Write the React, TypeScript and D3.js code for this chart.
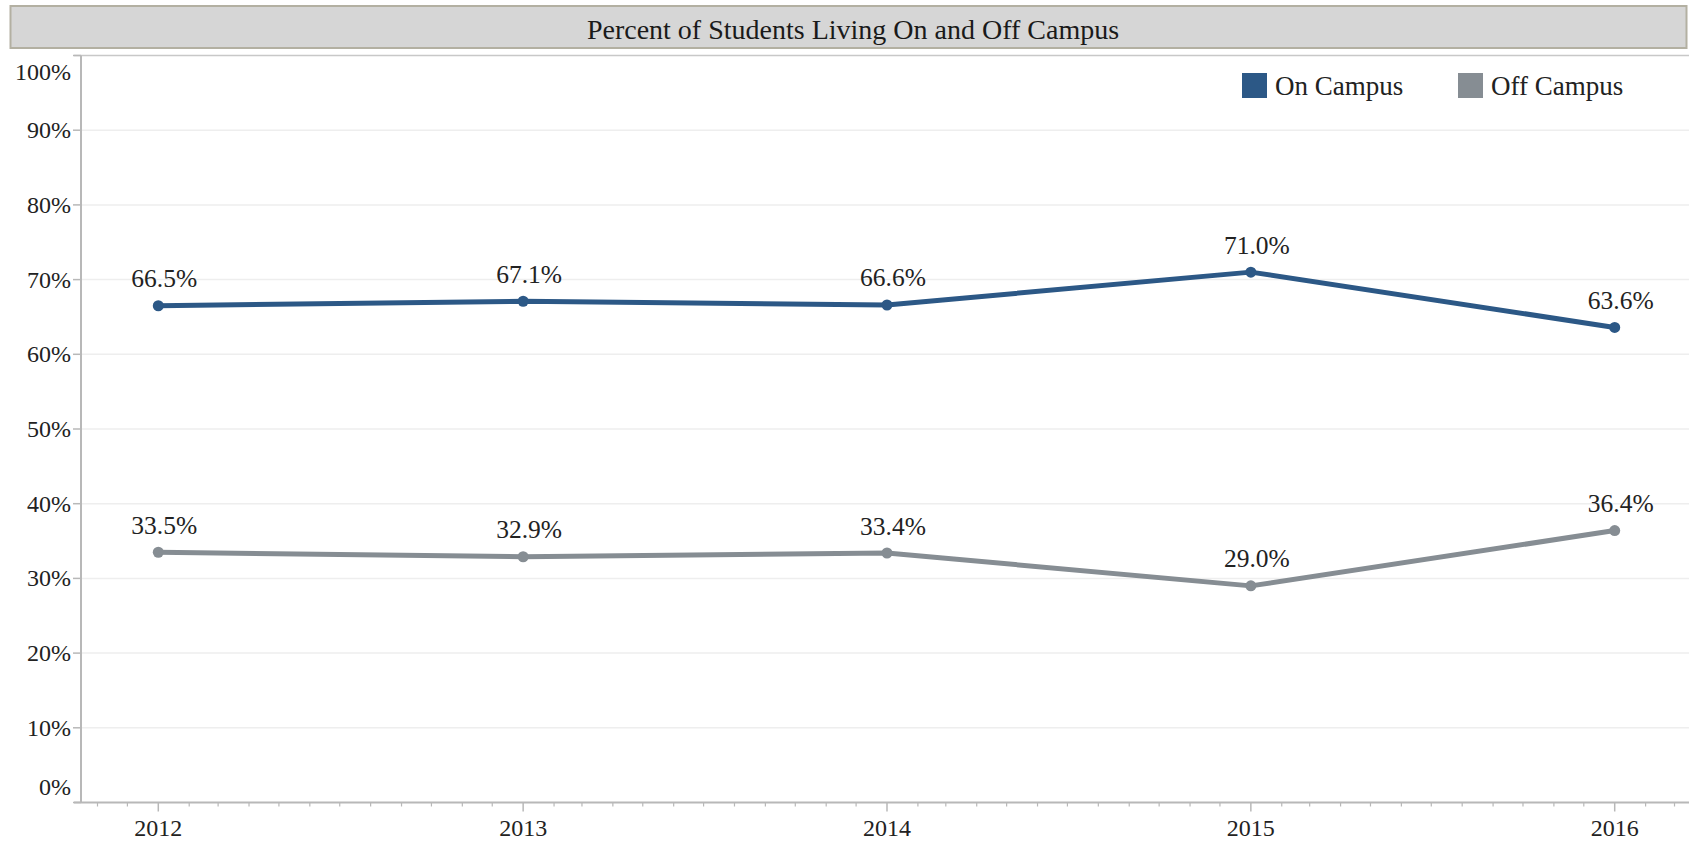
import React from "react";
import * as d3 from "d3";

const years = [2012, 2013, 2014, 2015, 2016];
const onCampus = [66.5, 67.1, 66.6, 71.0, 63.6];
const offCampus = [33.5, 32.9, 33.4, 29.0, 36.4];
const yTicks = [0, 10, 20, 30, 40, 50, 60, 70, 80, 90, 100];
const seriesNames = ["On Campus", "Off Campus"];
const seriesColors = ["#2c5886", "#868d93"];
const title = "Percent of Students Living On and Off Campus";

const W = 1689;
const H = 843;
const FONT = "'Liberation Serif', 'Times New Roman', serif";

export default function App() {
  const axisLeft = 81;
  const axisRight = 1689;
  const x = d3
    .scaleUtc()
    .domain([new Date(Date.UTC(2012, 0, 1)), new Date(Date.UTC(2016, 0, 1))])
    .range([158.3, 1614.7]);
  const y = d3.scaleLinear().domain([0, 100]).range([802.5, 55.5]);
  const d0 = x.invert(axisLeft);
  const d1 = x.invert(axisRight);
  const months = d3.utcMonth.range(d0, d1).filter((d) => d.getUTCMonth() !== 0);
  const yearDates = years.map((yr) => new Date(Date.UTC(yr, 0, 1)));

  const series = [onCampus, offCampus];
  const line = d3
    .line<number>()
    .x((_, i) => x(yearDates[i]))
    .y((v) => y(v));

  return (
    <svg
      width={W}
      height={H}
      style={{ position: "absolute", left: 0, top: 0, background: "#fff" }}
      fontFamily={FONT}
    >
      {/* title bar */}
      <rect x={10.5} y={6} width={1676} height={42} fill="#d6d6d6" stroke="#b3b0a2" strokeWidth={2} />
      <text x={853} y={29} textAnchor="middle" dominantBaseline="central" fontSize={28} fill="#1a1a1a">
        {title}
      </text>

      {/* gridlines */}
      {yTicks
        .filter((t) => t > 0 && t < 100)
        .map((t) => (
          <line key={"g" + t} x1={axisLeft} x2={axisRight} y1={y(t)} y2={y(t)} stroke="#eeeeee" strokeWidth={1.5} />
        ))}
      {/* top border */}
      <line x1={74} x2={axisRight} y1={y(100)} y2={y(100)} stroke="#c8c8c8" strokeWidth={1.5} />

      {/* y axis */}
      <line x1={axisLeft} x2={axisLeft} y1={y(100)} y2={y(0)} stroke="#b8b8b8" strokeWidth={2} />
      {yTicks.map((t) => (
        <g key={"y" + t}>
          <line x1={axisLeft - 8} x2={axisLeft} y1={y(t)} y2={y(t)} stroke="#b8b8b8" strokeWidth={1.5} />
          <text
            x={71}
            y={t === 100 ? y(t) + 16 : t === 0 ? y(t) - 16 : y(t)}
            textAnchor="end"
            dominantBaseline="central"
            fontSize={24}
            fill="#222"
          >
            {t + "%"}
          </text>
        </g>
      ))}

      {/* x axis */}
      <line x1={74} x2={axisRight} y1={y(0)} y2={y(0)} stroke="#b8b8b8" strokeWidth={2} />
      {months.map((m, i) => (
        <line key={"m" + i} x1={x(m)} x2={x(m)} y1={y(0)} y2={y(0) + 4} stroke="#b8b8b8" strokeWidth={1.2} />
      ))}
      {yearDates.map((d, i) => (
        <g key={"x" + i}>
          <line x1={x(d)} x2={x(d)} y1={y(0)} y2={y(0) + 9} stroke="#b8b8b8" strokeWidth={1.5} />
          <text x={x(d)} y={828} textAnchor="middle" dominantBaseline="central" fontSize={24} fill="#222">
            {years[i]}
          </text>
        </g>
      ))}

      {/* lines */}
      {series.map((s, si) => (
        <g key={"s" + si}>
          <path d={line(s) || ""} fill="none" stroke={seriesColors[si]} strokeWidth={5} strokeLinejoin="round" />
          {s.map((v, i) => (
            <circle key={i} cx={x(yearDates[i])} cy={y(v)} r={5.5} fill={seriesColors[si]} />
          ))}
          {s.map((v, i) => (
            <text
              key={"l" + i}
              x={x(yearDates[i]) + 6}
              y={y(v) - 27}
              textAnchor="middle"
              dominantBaseline="central"
              fontSize={25.5}
              fill="#222"
            >
              {v.toFixed(1) + "%"}
            </text>
          ))}
        </g>
      ))}

      {/* legend */}
      {seriesNames.map((n, i) => {
        const lx = i === 0 ? 1242 : 1458;
        return (
          <g key={"lg" + i}>
            <rect x={lx} y={73} width={25} height={25} fill={seriesColors[i]} />
            <text x={lx + 33} y={86} dominantBaseline="central" fontSize={27} fill="#222">
              {n}
            </text>
          </g>
        );
      })}
    </svg>
  );
}
